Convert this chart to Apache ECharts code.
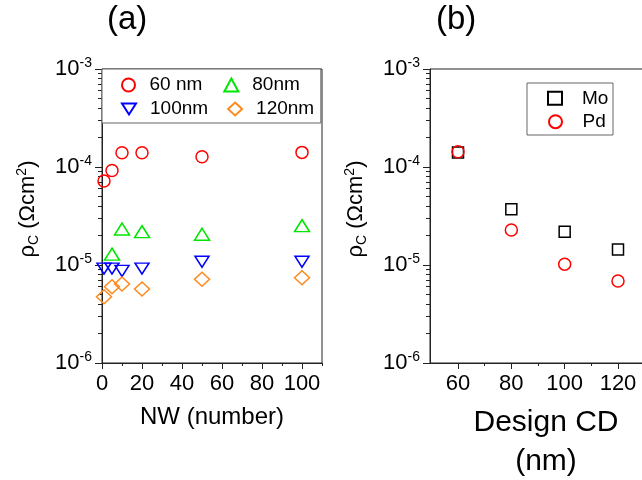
<!DOCTYPE html>
<html>
<head>
<meta charset="utf-8">
<script src="https://cdn.jsdelivr.net/npm/echarts@6/dist/echarts.min.js"></script>
<style>html,body{margin:0;padding:0;background:#fff}#c{width:642px;height:480px}</style>
</head>
<body>
<div id="c"></div>
<script>
// ---- data: panel (a) ----
const nw60 = [1, 5, 10, 20, 50, 100];
const rho60 = [7.2e-5, 9.2e-5, 1.40e-4, 1.40e-4, 1.27e-4, 1.41e-4];
const nw80 = [5, 10, 20, 50, 100];
const rho80 = [1.29e-5, 2.33e-5, 2.19e-5, 2.06e-5, 2.52e-5];
const nw100 = [1, 5, 10, 20, 50, 100];
const rho100 = [9.2e-6, 9.2e-6, 8.7e-6, 9.2e-6, 1.08e-5, 1.08e-5];
const nw120 = [1, 5, 10, 20, 50, 100];
const rho120 = [4.75e-6, 6.0e-6, 6.4e-6, 5.7e-6, 7.15e-6, 7.4e-6];
// ---- data: panel (b) ----
const designCD = [60, 80, 100, 120];
const rhoMo = [1.41e-4, 3.70e-5, 2.19e-5, 1.44e-5];
const rhoPd = [1.43e-4, 2.28e-5, 1.02e-5, 6.87e-6];
// ---- ticks ----
const xTicksA = [0, 20, 40, 60, 80, 100];
const xMinorA = [10, 30, 50, 70, 90, 110];
const xTicksB = [60, 80, 100, 120];
const xMinorB = [70, 90, 110, 130];
const yTicks = [1e-6, 1e-5, 1e-4, 1e-3];
const yMinor = [];
[1e-6, 1e-5, 1e-4].forEach(d => { for (let k = 2; k <= 9; k++) yMinor.push(+(d * k).toPrecision(3)); });

const FONT = '"Liberation Sans", Arial, sans-serif';
const AX = '#222';
const DOWN_TRI = 'path://M0,0 L14,0 L7,11 Z';

const zip = (xs, ys) => xs.map((x, i) => [x, ys[i]]);

function yMain(grid) {
  return {
    type: 'log', logBase: 10, gridIndex: grid, min: 1e-6, max: 1e-3, position: 'left',
    name: '{r|ρ}{sub|C}{r| (Ωcm}{sup|2}{r|)}', nameLocation: 'middle', nameGap: 61, nameRotate: 90,
    nameTextStyle: {
      fontFamily: FONT, color: '#000', padding: [0, 0, 0, 14],
      rich: {
        r: { fontSize: 22, fontFamily: FONT, color: '#000', lineHeight: 26 },
        sub: { fontSize: 14, fontFamily: FONT, color: '#000', verticalAlign: 'bottom', lineHeight: 20 },
        sup: { fontSize: 14, fontFamily: FONT, color: '#000', verticalAlign: 'top', lineHeight: 14 }
      }
    },
    axisLine: { show: true, lineStyle: { color: AX, width: 1 } },
    axisTick: { show: true, inside: false, length: 7, lineStyle: { color: AX }, customValues: yTicks },
    axisLabel: {
      margin: 10, customValues: yTicks,
      formatter: v => '{b|10}{s|' + Math.round(Math.log10(v)) + '}',
      rich: {
        b: { fontSize: 22, fontFamily: FONT, color: '#000', lineHeight: 26 },
        s: { fontSize: 14, fontFamily: FONT, color: '#000', verticalAlign: 'top', lineHeight: 14 }
      }
    },
    splitLine: { show: false }
  };
}
function yMinorAx(grid) {
  return {
    type: 'log', logBase: 10, gridIndex: grid, min: 1e-6, max: 1e-3, position: 'left',
    axisLine: { show: false },
    axisTick: { show: true, inside: false, length: 4, lineStyle: { color: AX }, customValues: yMinor },
    axisLabel: { show: false }, splitLine: { show: false }
  };
}
function xMain(grid, min, max, ticks, name, nameGap, nameStyle) {
  return {
    type: 'value', gridIndex: grid, min: min, max: max, position: 'bottom',
    name: name, nameLocation: 'middle', nameGap: nameGap, nameTextStyle: nameStyle,
    axisLine: { show: true, onZero: false, lineStyle: { color: AX, width: 1 } },
    axisTick: { show: true, inside: false, length: 6, lineStyle: { color: AX }, customValues: ticks },
    axisLabel: { margin: 10, fontSize: 22, fontFamily: FONT, color: '#000', customValues: ticks },
    splitLine: { show: false }
  };
}
function xMinorAx(grid, min, max, ticks) {
  return {
    type: 'value', gridIndex: grid, min: min, max: max, position: 'bottom',
    axisLine: { show: false, onZero: false },
    axisTick: { show: true, inside: false, length: 3, lineStyle: { color: AX }, customValues: ticks },
    axisLabel: { show: false }, splitLine: { show: false }
  };
}
function sc(name, data, xi, yi, symbol, size, color) {
  return {
    type: 'scatter', name: name, data: data, xAxisIndex: xi, yAxisIndex: yi,
    symbol: symbol, symbolSize: size, clip: false,
    itemStyle: { color: 'transparent', borderColor: color, borderWidth: 1.5, opacity: 1 },
    emphasis: { disabled: true }
  };
}
function leg(names, pos, padding, gap, framed, txtPad, z) {
  return Object.assign({
    orient: 'horizontal', padding: padding, itemGap: gap, align: 'left',
    itemWidth: 14, itemHeight: 13, z: z,
    borderColor: framed ? '#666' : 'transparent', borderWidth: framed ? 1 : 0, borderRadius: 0,
    backgroundColor: framed ? '#fff' : 'transparent',
    data: names, selectedMode: false,
    textStyle: { fontSize: 19, fontFamily: FONT, color: '#000', padding: [0, 0, 0, txtPad] }
  }, pos);
}

const RED = '#ff0000', GREEN = '#00e600', BLUE = '#0000ff', ORANGE = '#ff8a1f', BLACK = '#000000';

const chart = echarts.init(document.getElementById('c'), null, { renderer: 'canvas' });
chart.setOption({
  animation: false,
  backgroundColor: '#fff',
  title: [
    { text: '(a)', left: 107, top: 3, padding: 0, textStyle: { fontSize: 33, fontWeight: 'normal', fontFamily: FONT, color: '#000' } },
    { text: '(b)', left: 436, top: 3, padding: 0, textStyle: { fontSize: 33, fontWeight: 'normal', fontFamily: FONT, color: '#000' } }
  ],
  grid: [
    { left: 102, top: 69, width: 220, height: 294, show: true, borderColor: AX, borderWidth: 1, backgroundColor: 'transparent', outerBoundsMode: 'none', containLabel: false },
    { left: 430, top: 69, right: -4, height: 294, show: true, borderColor: AX, borderWidth: 1, backgroundColor: 'transparent', outerBoundsMode: 'none', containLabel: false }
  ],
  xAxis: [
    xMain(0, 0, 110, xTicksA, 'NW (number)', 41, { fontSize: 24, fontFamily: FONT, color: '#000', lineHeight: 26 }),
    xMinorAx(0, 0, 110, xMinorA),
    xMain(1, 49.5, 130.5, xTicksB, 'Design CD\n(nm)', 40, { fontSize: 30, fontFamily: FONT, color: '#000', lineHeight: 39, padding: [0, 0, 0, 16] }),
    xMinorAx(1, 49.5, 130.5, xMinorB)
  ],
  yAxis: [yMain(0), yMinorAx(0), yMain(1), yMinorAx(1)],
  legend: [
    leg(['60 nm', '80nm'], { left: 102, top: 69 }, [6.5, 21, 28.5, 19], 21, true, 9, 4),
    leg(['100nm', '120nm'], { left: 121, top: 99.5 }, 0, 19, false, 9, 6),
    leg(['Mo'], { right: 29, top: 83 }, [5.8, 4.6, 27.2, 20], 10, true, 15, 4),
    leg(['Pd'], { left: 548, top: 112.2 }, 0, 10, false, 15, 6)
  ],
  series: [
    sc('60 nm', zip(nw60, rho60), 0, 0, 'circle', 12, RED),
    sc('80nm', zip(nw80, rho80), 0, 0, 'triangle', [15, 12], GREEN),
    sc('100nm', zip(nw100, rho100), 0, 0, DOWN_TRI, [14, 11], BLUE),
    sc('120nm', zip(nw120, rho120), 0, 0, 'diamond', [15, 14], ORANGE),
    sc('Mo', zip(designCD, rhoMo), 2, 2, 'rect', 11, BLACK),
    sc('Pd', zip(designCD, rhoPd), 2, 2, 'circle', 12, RED)
  ]
});
</script>
</body>
</html>
